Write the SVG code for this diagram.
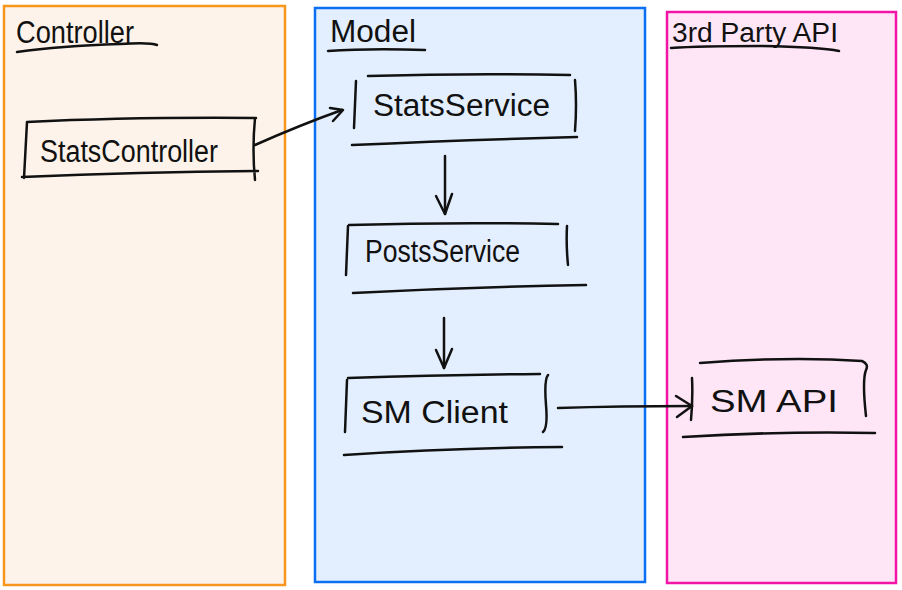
<svg xmlns="http://www.w3.org/2000/svg" width="902" height="590" viewBox="0 0 902 590">
<defs>
<style>
.ink{fill:none;stroke:#111;stroke-width:2.5;stroke-linecap:round;stroke-linejoin:round}
.t{font-family:"Liberation Sans","DejaVu Sans",sans-serif;fill:#111;font-weight:normal}
.h{font-size:31px}
.l{font-size:31px}
</style>
</defs>
<g id="panel-controller">
<rect x="4" y="6" width="281" height="579" fill="#fdf3ea" stroke="#f7961d" stroke-width="2.5"/>
<text class="t h" x="16" y="43" textLength="118" lengthAdjust="spacingAndGlyphs">Controller</text>
<path class="ink" d="M17,52 Q60,46 120,44 Q150,42 157,45"/>
</g>
<g id="panel-model">
<rect x="315" y="8" width="330" height="574" fill="#e3efff" stroke="#0a6ff2" stroke-width="2.5"/>
<text class="t h" x="330" y="42" textLength="86" lengthAdjust="spacingAndGlyphs">Model</text>
<path class="ink" d="M328,51 Q370,48 425,50"/>
</g>
<g id="panel-api">
<rect x="667" y="12" width="229" height="571" fill="#fee6f7" stroke="#f214a6" stroke-width="2.5"/>
<text class="t" font-size="27" x="672" y="42" textLength="166" lengthAdjust="spacingAndGlyphs">3rd Party API</text>
<path class="ink" d="M671,48 Q700,46 760,46 Q820,47 839,51"/>
</g>
<g id="node-statscontroller">
<path class="ink" d="M27,122 L24,178 M27,122 Q130,117 256,118 M22,177 Q140,172 258,171 M255,118 Q252,150 255,180"/>
<text class="t l" x="40" y="162" textLength="178" lengthAdjust="spacingAndGlyphs">StatsController</text>
</g>
<g id="node-statsservice">
<path class="ink" d="M368,76 Q470,73 570,75 M356,81 L354,128 M575,80 Q577,105 575,131 M352,145 Q460,140 577,137"/>
<text class="t l" x="373" y="116" textLength="177" lengthAdjust="spacingAndGlyphs">StatsService</text>
</g>
<g id="node-postsservice">
<path class="ink" d="M349,225 Q450,222 558,224 M348,226 L346,275 M567,226 Q566,245 568,265 M353,293 Q470,287 586,285"/>
<text class="t l" x="365" y="262" textLength="155" lengthAdjust="spacingAndGlyphs">PostsService</text>
</g>
<g id="node-smclient">
<path class="ink" d="M348,378 Q440,375 540,374 M347,380 L345,432 M548,375 Q544,380 546,405 Q548,428 543,432 M344,455 Q450,448 562,447"/>
<text class="t l" x="361" y="423" textLength="147" lengthAdjust="spacingAndGlyphs">SM Client</text>
</g>
<g id="node-smapi">
<path class="ink" d="M700,363 Q790,356 862,361 Q869,364 866,370 Q862,380 866,416 M692,378 Q693,398 691,420 M683,437 Q780,431 875,433"/>
<text class="t l" x="710" y="412" textLength="128" lengthAdjust="spacingAndGlyphs">SM API</text>
</g>
<g id="connectors">
<path class="ink" d="M255,145 Q300,125 342,110"/>
<path class="ink" d="M330,108 L343,110 L333,121"/>
<path class="ink" d="M445,156 L445,214"/>
<path class="ink" d="M436,196 L445,214 L452,194"/>
<path class="ink" d="M444,318 L444,368"/>
<path class="ink" d="M436,350 L444,368 L452,349"/>
<path class="ink" d="M558,408 Q620,406 692,406"/>
<path class="ink" d="M676,396 L692,406 L677,417"/>
</g>
</svg>
